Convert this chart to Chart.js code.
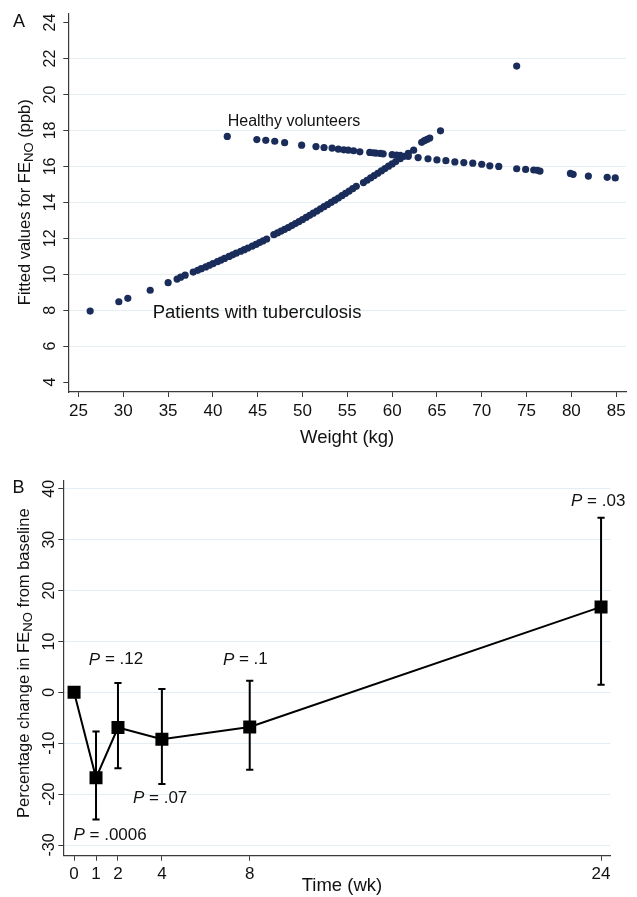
<!DOCTYPE html>
<html>
<head>
<meta charset="utf-8">
<script src="https://cdn.jsdelivr.net/npm/chart.js@4/dist/chart.umd.min.js"></script>
<style>
  html, body { margin: 0; padding: 0; background: #fff; }
  body { width: 637px; height: 897px; position: relative; overflow: hidden; }
  canvas { position: absolute; left: 0; }
  #chartA { top: 0; }
  #chartB { top: 452px; }
</style>
</head>
<body>
<canvas id="chartA" width="637" height="452"></canvas>
<canvas id="chartB" width="637" height="445"></canvas>
<script>
// panel A: fitted FeNO against weight
const patientWeight = [
  26.3, 29.5, 30.5, 33.0, 35.0, 36.0, 36.4, 36.9, 37.8, 38.3,
  38.7, 39.2, 39.6, 40.0, 40.5, 40.9, 41.3, 41.8, 42.2, 42.6,
  43.1, 43.5, 43.9, 44.4, 44.8, 45.2, 45.6, 46.0, 46.8, 47.2,
  47.6, 48.0, 48.4, 48.8, 49.2, 49.6, 50.0, 50.4, 50.8, 51.2,
  51.6, 52.0, 52.4, 52.8, 53.2, 53.6, 54.0, 54.4, 54.8, 55.2,
  55.6, 56.0, 56.8, 57.2, 57.6, 58.0, 58.4, 58.8, 59.2, 59.6,
  60.0, 60.4, 60.9, 61.3, 61.8, 62.4, 63.3, 63.6, 63.9, 64.2,
  65.4,
]
const patientFeno = [
  7.95, 8.47, 8.66, 9.11, 9.53, 9.73, 9.84, 9.95, 10.12, 10.22,
  10.31, 10.41, 10.5, 10.59, 10.7, 10.79, 10.88, 10.99, 11.08, 11.17,
  11.28, 11.37, 11.46, 11.57, 11.66, 11.76, 11.86, 11.96, 12.2, 12.3,
  12.4, 12.5, 12.6, 12.71, 12.82, 12.93, 13.04, 13.16, 13.28, 13.4,
  13.52, 13.64, 13.76, 13.88, 14.0, 14.12, 14.24, 14.37, 14.5, 14.63,
  14.76, 14.89, 15.1, 15.23, 15.36, 15.49, 15.62, 15.75, 15.88, 16.01,
  16.14, 16.27, 16.43, 16.56, 16.72, 16.9, 17.34, 17.43, 17.5, 17.58,
  17.98,
]
const healthyWeight = [
  41.6, 44.9, 45.9, 46.9, 48.0, 49.9, 51.5, 52.4, 53.3, 54.0,
  54.6, 55.1, 55.7, 56.4, 57.5, 57.9, 58.2, 58.7, 59.0, 60.0,
  60.5, 60.9, 61.8, 62.9, 64.0, 65.0, 66.0, 67.0, 68.0, 69.0,
  70.0, 70.9, 71.9, 73.9, 74.9, 75.8, 76.2, 76.5, 79.9, 80.2,
  81.9, 84.0, 84.9, 73.9,
]
const healthyFeno = [
  17.67, 17.49, 17.45, 17.4, 17.32, 17.18, 17.1, 17.05, 17.02, 16.96,
  16.92, 16.9, 16.87, 16.81, 16.78, 16.76, 16.74, 16.72, 16.7, 16.65,
  16.63, 16.61, 16.56, 16.49, 16.42, 16.36, 16.32, 16.25, 16.21, 16.18,
  16.12, 16.03, 16.0, 15.87, 15.83, 15.8, 15.78, 15.74, 15.61, 15.56,
  15.46, 15.39, 15.36, 21.58,
]
const weightTicks = [25, 30, 35, 40, 45, 50, 55, 60, 65, 70, 75, 80, 85]
const fenoTicks = [4, 6, 8, 10, 12, 14, 16, 18, 20, 22, 24]

// panel B: percentage change over time
const weeks = [0, 1, 2, 4, 8, 24]
const pctChange = [0, -16.8, -6.9, -9.2, -6.8, 16.8]
const ciLower = [null, -25.0, -14.9, -18.0, -15.2, 1.5]
const ciUpper = [null, -7.7, 1.85, 0.67, 2.3, 34.3]
const pValues = ['.0006', '.12', '.07', '.1', '.03']
const weekTicks = [0, 1, 2, 4, 8, 24]
const pctTicks = [-30, -20, -10, 0, 10, 20, 30, 40]

const FONT = "'Liberation Sans', Arial, sans-serif"
const GRID = '#e4eef3'
const AXIS = '#3a3a3a'
const NAVY = '#1a2c5a'

function fontFor(part, size) {
  const s = part.sub ? size * 0.8 : size
  return (part.italic ? 'italic ' : '') + s + 'px ' + FONT
}

// draws text made of pieces (italic / subscript) centred or left aligned
function drawRich(ctx, parts, x, y, size, align, rotate) {
  ctx.save()
  ctx.translate(x, y)
  if (rotate) ctx.rotate(-Math.PI / 2)
  let total = 0
  const widths = parts.map((p) => {
    ctx.font = fontFor(p, size)
    const w = ctx.measureText(p.t).width
    total += w
    return w
  })
  let cx = align === 'left' ? 0 : -total / 2
  ctx.textAlign = 'left'
  ctx.textBaseline = 'middle'
  ctx.fillStyle = '#111'
  parts.forEach((p, i) => {
    ctx.font = fontFor(p, size)
    ctx.fillText(p.t, cx, p.sub ? size * 0.22 : 0)
    cx += widths[i]
  })
  ctx.restore()
}

const notesPlugin = {
  id: 'notes',
  afterDraw(chart, args, opts) {
    const { ctx, chartArea, scales } = chart
    const midX = (chartArea.left + chartArea.right) / 2
    const midY = (chartArea.top + chartArea.bottom) / 2
    ;(opts.texts || []).forEach((n) => {
      const x = scales.x.getPixelForValue(n.x)
      const y = scales.y.getPixelForValue(n.y)
      drawRich(ctx, n.parts, x, y, n.size, n.align, false)
    })
    if (opts.xTitle) {
      const t = opts.xTitle
      drawRich(ctx, t.parts, midX + t.dx, chartArea.bottom + t.dy, t.size, 'center', false)
    }
    if (opts.yTitle) {
      const t = opts.yTitle
      drawRich(ctx, t.parts, chartArea.left - t.dx, midY + t.dy, t.size, 'center', true)
    }
    if (opts.tag) {
      drawRich(ctx, [{ t: opts.tag.t }], opts.tag.x, opts.tag.y, 18, 'center', false)
    }
  },
}

function toPoints(xs, ys) {
  return xs.map((x, i) => ({ x, y: ys[i] }))
}

function yAxis(min, max, tickValues, width, hideEnds, pad) {
  return {
    type: 'linear',
    min,
    max,
    afterBuildTicks: (scale) => {
      scale.ticks = tickValues.map((v) => ({ value: v }))
    },
    afterFit: (scale) => {
      scale.width = width
    },
    border: { display: true, color: AXIS, width: 1.2 },
    grid: {
      color: (c) => (c.tick && hideEnds.includes(c.tick.value) ? 'rgba(0,0,0,0)' : GRID),
      lineWidth: 1,
      tickColor: AXIS,
      tickLength: 5,
    },
    ticks: {
      color: '#111',
      font: { family: FONT, size: 16 },
      minRotation: 90,
      maxRotation: 90,
      crossAlign: 'center',
      padding: pad,
    },
  }
}

function xAxis(min, max, tickValues, height, pad) {
  return {
    type: 'linear',
    min,
    max,
    afterBuildTicks: (scale) => {
      scale.ticks = tickValues.map((v) => ({ value: v }))
    },
    afterFit: (scale) => {
      scale.height = height
    },
    border: { display: true, color: AXIS, width: 1.2 },
    grid: { drawOnChartArea: false, tickColor: AXIS, tickLength: 5 },
    ticks: {
      color: '#111',
      font: { family: FONT, size: 17 },
      maxRotation: 0,
      padding: pad,
    },
  }
}

const baseOptions = {
  responsive: false,
  animation: false,
  devicePixelRatio: 1,
}

// panel A
new Chart(document.getElementById('chartA').getContext('2d'), {
  type: 'scatter',
  data: {
    datasets: [
      {
        label: 'Patients with tuberculosis',
        data: toPoints(patientWeight, patientFeno),
        backgroundColor: NAVY,
        borderWidth: 0,
        pointRadius: 3.6,
      },
      {
        label: 'Healthy volunteers',
        data: toPoints(healthyWeight, healthyFeno),
        backgroundColor: NAVY,
        borderWidth: 0,
        pointRadius: 3.6,
      },
    ],
  },
  options: {
    ...baseOptions,
    layout: { padding: { top: 9.3, right: 11, bottom: 0, left: 0 } },
    scales: {
      x: xAxis(23.86, 86.1, weightTicks, 60, 4.5),
      y: yAxis(3.45, 24.5, fenoTicks, 68.3, [4, 24], 4),
    },
    plugins: {
      legend: { display: false },
      tooltip: { enabled: false },
      notes: {
        texts: [
          { parts: [{ t: 'Healthy volunteers' }], x: 41.65, y: 18.52, size: 16, align: 'left' },
          { parts: [{ t: 'Patients with tuberculosis' }], x: 33.28, y: 7.86, size: 18.5, align: 'left' },
        ],
        xTitle: { parts: [{ t: 'Weight (kg)' }], dx: 0, dy: 45.5, size: 18.5 },
        yTitle: {
          parts: [{ t: 'Fitted values for FE' }, { t: 'NO', sub: true }, { t: ' (ppb)' }],
          dx: 42.5,
          dy: -0.6,
          size: 16.5,
        },
        tag: { t: 'A', x: 19, y: 22 },
      },
    },
  },
  plugins: [notesPlugin],
})

// panel B
const errorBars = weeks
  .map((w, i) => ({ w, lo: ciLower[i], hi: ciUpper[i] }))
  .filter((e) => e.lo !== null)
  .map((e) => ({
    data: [
      { x: e.w, y: e.lo },
      { x: e.w, y: e.hi },
    ],
    borderColor: '#000',
    borderWidth: 2,
    pointStyle: 'line',
    pointRadius: 3.6,
    pointBorderWidth: 2,
    pointBorderColor: '#000',
    showLine: true,
  }))

new Chart(document.getElementById('chartB').getContext('2d'), {
  type: 'scatter',
  data: {
    datasets: [
      {
        label: 'Percentage change',
        data: toPoints(weeks, pctChange),
        showLine: true,
        borderColor: '#000',
        borderWidth: 2,
        pointStyle: 'rect',
        pointRadius: 9.2,
        pointBackgroundColor: '#000',
        pointBorderWidth: 0,
      },
      ...errorBars,
    ],
  },
  options: {
    ...baseOptions,
    layout: { padding: { top: 28.7, right: 26.5, bottom: 0, left: 0 } },
    scales: {
      x: xAxis(-0.49, 24.43, weekTicks, 41.3, 3),
      y: yAxis(-32.1, 41.6, pctTicks, 63.3, [], -3),
    },
    plugins: {
      legend: { display: false },
      tooltip: { enabled: false },
      notes: {
        texts: [
          { parts: [{ t: 'P', italic: true }, { t: ' = ' + pValues[0] }], x: 1.64, y: -28, size: 17 },
          { parts: [{ t: 'P', italic: true }, { t: ' = ' + pValues[1] }], x: 1.91, y: 6.4, size: 17 },
          { parts: [{ t: 'P', italic: true }, { t: ' = ' + pValues[2] }], x: 3.92, y: -20.8, size: 17 },
          { parts: [{ t: 'P', italic: true }, { t: ' = ' + pValues[3] }], x: 7.8, y: 6.4, size: 17 },
          { parts: [{ t: 'P', italic: true }, { t: ' = ' + pValues[4] }], x: 23.87, y: 37.6, size: 17 },
        ],
        xTitle: { parts: [{ t: 'Time (wk)' }], dx: 5, dy: 30, size: 18.5 },
        yTitle: {
          parts: [{ t: 'Percentage change in FE' }, { t: 'NO', sub: true }, { t: ' from baseline' }],
          dx: 38.8,
          dy: -5,
          size: 16.5,
        },
        tag: { t: 'B', x: 18.5, y: 36 },
      },
    },
  },
  plugins: [notesPlugin],
})
</script>
</body>
</html>
